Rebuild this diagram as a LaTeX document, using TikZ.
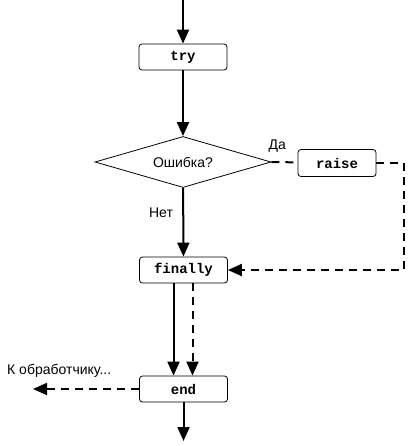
\documentclass[tikz,border=0pt]{standalone}
\usepackage{fontspec}
\setmainfont{Liberation Sans}
\newfontfamily\codefont{Liberation Mono}
\usetikzlibrary{arrows.meta,shapes.geometric}

\begin{document}
\begin{tikzpicture}[x=1pt,y=1pt,font=\fontsize{14}{16}\selectfont,
    blk/.style={draw,rounded corners=3pt,line width=0.8pt,minimum width=88pt,minimum height=26pt,inner sep=0pt,font=\codefont\bfseries\fontsize{14}{14}\selectfont},
    flow/.style={line width=2pt,-{Triangle[length=14pt,width=12pt]}},
    alt/.style={flow,dash pattern=on 8pt off 6pt}]
    \useasboundingbox (0,0) rectangle (412,-446);
    \coordinate (in) at (183,0);
    \node[blk] (try) at (183,-57) {try};
    \node[draw,diamond,aspect=3.45,line width=0.8pt,minimum width=176pt,minimum height=51pt,inner sep=0pt] (err) at (183,-162) {Ошибка?};
    \node[blk,minimum width=78pt,minimum height=27pt] (raise) at (337,-163) {raise};
    \node[blk] (fin) at (183.5,-270) {finally};
    \node[blk] (end) at (183.5,-389) {end};
    \coordinate (rc) at (404,-163);
    \coordinate (handler) at (33,-389);
    \coordinate (out) at (183.5,-441);
    \node[anchor=west] (yes) at (265,-146) {Да};
    \node (no) at (161,-213) {Нет};
    \node[anchor=west,inner sep=0pt] (hlabel) at (7,-371) {К обработчику...};
    \draw[flow] (in) -- (try);
    \draw[flow] (try) -- (err);
    \draw[flow] (err) -- (fin);
    \draw[line width=2pt,dash pattern=on 8pt off 6pt] (err.east) -- (raise);
    \draw[alt] (raise.east) -- (rc) |- (fin.east);
    \draw[flow] ([xshift=-10pt]fin.south) -- ([xshift=-10pt]end.north);
    \draw[alt] ([xshift=9pt]fin.south) -- ([xshift=9pt]end.north);
    \draw[alt] (end.west) -- (handler);
    \draw[flow] (end) -- (out);
\end{tikzpicture}
\end{document}
